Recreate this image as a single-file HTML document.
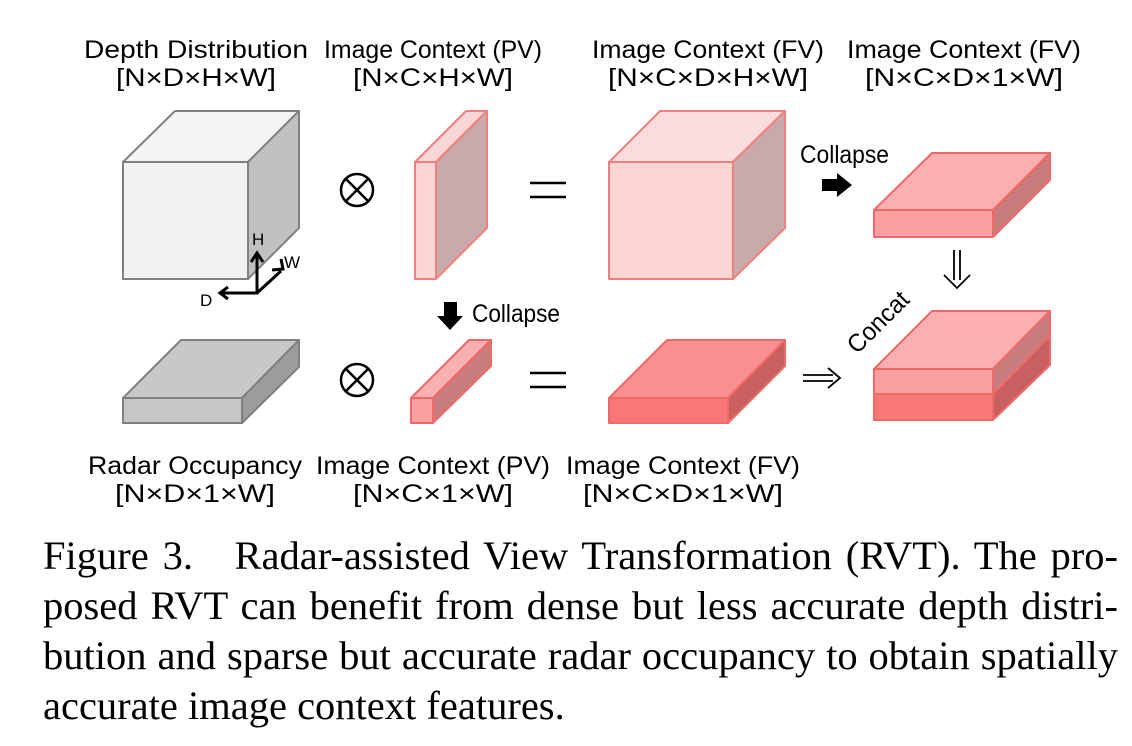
<!DOCTYPE html>
<html><head><style>
html,body{margin:0;padding:0;background:#fff;width:1132px;height:746px;overflow:hidden}
svg{position:absolute;left:0;top:0}
.t{font-family:"Liberation Sans",sans-serif;font-size:25px;fill:#000}
.cap{position:absolute;left:43px;width:1075px;font-family:"Liberation Serif",serif;font-size:40.5px;line-height:50px;text-align:justify;text-align-last:justify;white-space:nowrap;color:#000}
</style></head><body>
<svg width="1132" height="520" viewBox="0 0 1132 520">
<g class="t" text-anchor="middle">
<text x="196" y="58" textLength="224" lengthAdjust="spacingAndGlyphs">Depth Distribution</text>
<text x="196" y="86" textLength="160" lengthAdjust="spacingAndGlyphs">[N×D×H×W]</text>
<text x="433" y="58" textLength="218" lengthAdjust="spacingAndGlyphs">Image Context (PV)</text>
<text x="433" y="86" textLength="160" lengthAdjust="spacingAndGlyphs">[N×C×H×W]</text>
<text x="708" y="58" textLength="232" lengthAdjust="spacingAndGlyphs">Image Context (FV)</text>
<text x="708" y="86" textLength="200" lengthAdjust="spacingAndGlyphs">[N×C×D×H×W]</text>
<text x="964" y="58" textLength="234" lengthAdjust="spacingAndGlyphs">Image Context (FV)</text>
<text x="964" y="86" textLength="198" lengthAdjust="spacingAndGlyphs">[N×C×D×1×W]</text>
<text x="195" y="474" textLength="214" lengthAdjust="spacingAndGlyphs">Radar Occupancy</text>
<text x="195" y="502" textLength="160" lengthAdjust="spacingAndGlyphs">[N×D×1×W]</text>
<text x="433" y="474" textLength="234" lengthAdjust="spacingAndGlyphs">Image Context (PV)</text>
<text x="433" y="502" textLength="160" lengthAdjust="spacingAndGlyphs">[N×C×1×W]</text>
<text x="683" y="474" textLength="234" lengthAdjust="spacingAndGlyphs">Image Context (FV)</text>
<text x="683" y="502" textLength="200" lengthAdjust="spacingAndGlyphs">[N×C×D×1×W]</text>
</g>
<g stroke="#808080" stroke-width="2" stroke-linejoin="round">
<polygon points="123,162 175,111 299,111 248,162" fill="#f4f4f4"/>
<polygon points="248,162 299,111 299,228 248,279" fill="#c0c0c0"/>
<rect x="123" y="162" width="125" height="117" fill="#f2f2f2"/>
<polygon points="123,398 181,340 299,340 242,398" fill="#c8c8c8"/>
<polygon points="242,398 299,340 299,367 242,423" fill="#9c9c9c"/>
<rect x="123" y="398" width="119" height="25" fill="#c6c6c6"/>
</g>
<g stroke="#000" stroke-width="3" fill="none">
<polyline points="220,293 257,293 257,255"/>
<line x1="257" y1="293" x2="281" y2="271"/>
<polyline points="251,262 257,253 263,262"/>
<polyline points="272,270 283,269 281,259"/>
<polyline points="228,287 220,293 228,299"/>
</g>
<text x="252" y="245" font-family="Liberation Sans" font-size="17">H</text>
<text x="284" y="268" font-family="Liberation Sans" font-size="17">W</text>
<text x="200" y="306" font-family="Liberation Sans" font-size="17">D</text>
<g stroke="#000" stroke-width="2.5" fill="none">
<circle cx="357" cy="190" r="16"/><line x1="346" y1="179" x2="368" y2="201"/><line x1="368" y1="179" x2="346" y2="201"/>
<circle cx="357" cy="380" r="16"/><line x1="346" y1="369" x2="368" y2="391"/><line x1="368" y1="369" x2="346" y2="391"/>
</g>
<g stroke="#000" stroke-width="2.5">
<line x1="530" y1="183" x2="566" y2="183"/><line x1="530" y1="197" x2="566" y2="197"/>
<line x1="530" y1="373" x2="566" y2="373"/><line x1="530" y1="387" x2="566" y2="387"/>
</g>
<g stroke="#f08080" stroke-width="2" stroke-linejoin="round">
<polygon points="415,162 466,111 487,111 436,162" fill="#fcd5d5"/>
<polygon points="436,162 487,111 487,228 436,279" fill="#c9aaaa"/>
<rect x="415" y="162" width="21" height="117" fill="#fcd5d5"/>
<polygon points="609,162 660,111 785,111 733,162" fill="#fcdcdc"/>
<polygon points="733,162 785,111 785,228 733,279" fill="#c9aaaa"/>
<rect x="609" y="162" width="124" height="117" fill="#fcd5d5"/>
</g>
<g stroke="#f06868" stroke-width="2" stroke-linejoin="round">
<polygon points="411,398 469,340 491,340 433,398" fill="#fab0b0"/>
<polygon points="433,398 491,340 491,366 433,423" fill="#c87c7c"/>
<rect x="411" y="398" width="22" height="25" fill="#f9a0a0"/>
<polygon points="874,210 932,153 1050,153 993,210" fill="#fab0b0"/>
<polygon points="993,210 1050,153 1050,180 993,237" fill="#c87c7c"/>
<rect x="874" y="210" width="119" height="27" fill="#f9a0a0"/>
<polygon points="609,398 667,340 785,340 728,398" fill="#f99090"/>
<polygon points="728,398 785,340 785,366 728,423" fill="#c86060"/>
<rect x="609" y="398" width="119" height="25" fill="#f87878"/>
<polygon points="993,394 1050,336 1050,365 993,420" fill="#c86060"/>
<rect x="874" y="394" width="119" height="26" fill="#f87878"/>
<polygon points="874,369 932,311 1050,311 993,369" fill="#fab0b0"/>
<polygon points="993,369 1050,311 1050,336 993,394" fill="#c87c7c"/>
<rect x="874" y="369" width="119" height="25" fill="#f9a0a0"/>
</g>
<polygon points="444,302 457,302 457,316 463,316 450,330 437,316 444,316" fill="#000"/>
<text x="472" y="322" class="t" font-size="22" textLength="88" lengthAdjust="spacingAndGlyphs">Collapse</text>
<polygon points="822,179 837,179 837,173 852,185 837,197 837,191 822,191" fill="#000"/>
<text x="800" y="163" class="t" font-size="22" textLength="89" lengthAdjust="spacingAndGlyphs">Collapse</text>
<g stroke="#000" stroke-width="1.8" fill="none">
<line x1="954" y1="250" x2="954" y2="280"/><line x1="960" y1="250" x2="960" y2="280"/>
<polyline points="944,275 957,288 970,275"/>
<line x1="803" y1="375" x2="833" y2="375"/><line x1="803" y1="381" x2="833" y2="381"/>
<polyline points="828,368 840,378 828,388"/>
</g>
<text transform="translate(884,328) rotate(-45)" text-anchor="middle" class="t" font-size="22" textLength="76" lengthAdjust="spacingAndGlyphs">Concat</text>
</svg>
<div class="cap" style="top:531px">Figure 3.&nbsp;&nbsp; Radar-assisted View Transformation (RVT). The pro-</div>
<div class="cap" style="top:581px">posed RVT can benefit from dense but less accurate depth distri-</div>
<div class="cap" style="top:631px">bution and sparse but accurate radar occupancy to obtain spatially</div>
<div class="cap" style="top:681px;text-align:left;text-align-last:left">accurate image context features.</div>
</body></html>
